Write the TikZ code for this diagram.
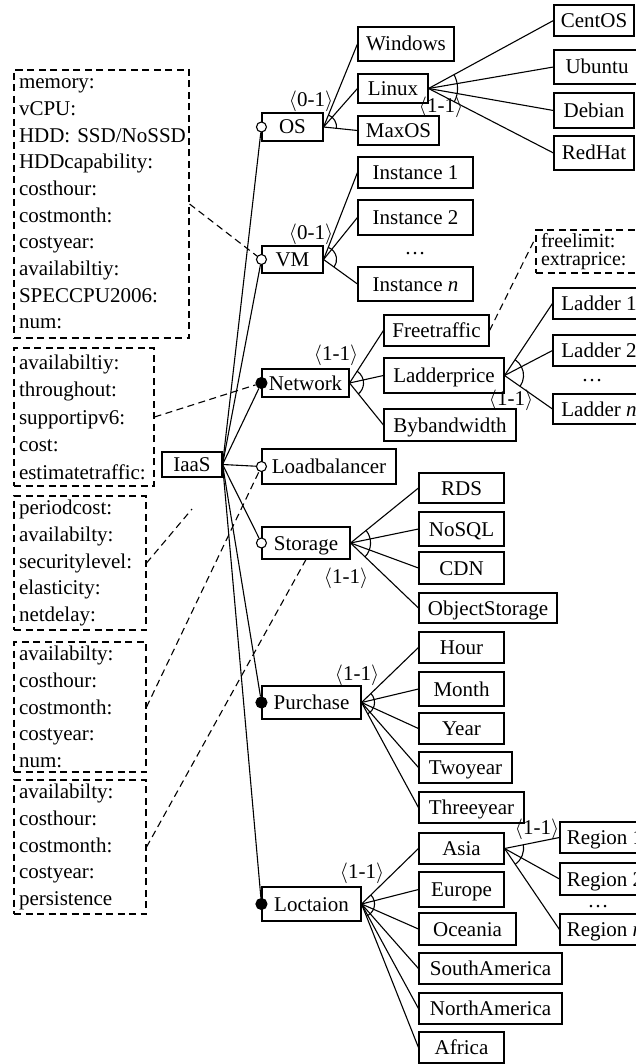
\documentclass[tikz,border=0pt]{standalone}
\usepackage{fontspec}
\setmainfont{Liberation Serif}
\usetikzlibrary{calc}

\tikzset{
  featbox/.style={draw, rectangle, inner sep=0pt, text height=16pt, text depth=2pt},
  attbox/.style={draw, rectangle, dash pattern=on 7pt off 4.5pt, align=left,
                 inner xsep=5pt, inner ysep=0pt},
  ocirc/.style={circle, draw, fill=white, inner sep=0pt, minimum size=10pt},
  fcirc/.style={circle, draw, fill=black, inner sep=0pt, minimum size=11pt},
  card/.style={inner sep=0pt},
  dotn/.style={inner sep=0pt, anchor=base},
  link/.style={},
  dlink/.style={dash pattern=on 7pt off 4.5pt},
}

% feature box from its corners: name, x1, y1, x2, y2, text
\newcommand\featnode[6]{%
  \node[featbox, minimum width={(#4-#2)*1pt}, minimum height={(#5-#3)*1pt}]
    (#1) at ({(#2+#4)/2},{(#3+#5)/2}) {#6};}

% group arc drawn round the parent's east point, from the first to the last child line
\newcommand\grouparc[4]{%
  \draw let \p1=($(#2.west)-(#1.east)$), \p2=($(#3.west)-(#1.east)$),
            \n1={atan2(\y1,\x1)}, \n2={atan2(\y2,\x2)} in
    ($(#1.east)+(\n1:#4)$) arc[start angle=\n1, end angle=\n2, radius=#4];}

\begin{document}
\begin{tikzpicture}[x=1pt, y=-1pt, line width=1.1pt,
                    font=\fontsize{21}{26.7}\selectfont]
\clip (0,0) rectangle (636,1064);

% ---------- root and first level ----------
\featnode{iaas}{162}{452}{222}{477}{IaaS}
\featnode{os}{262}{113}{323}{141}{OS}
\featnode{vm}{262}{246}{323}{273}{VM}
\featnode{net}{262}{369}{349}{397}{Network}
\featnode{lb}{262}{449}{396}{484}{Loadbalancer}
\featnode{sto}{262}{527}{350}{559}{Storage}
\featnode{pur}{262}{686}{361}{719}{Purchase}
\featnode{loc}{262}{887}{361}{921}{Loctaion}

% ---------- OS ----------
\featnode{win}{358}{27}{454}{61}{Windows}
\featnode{linux}{358}{74}{428}{103}{Linux}
\featnode{maxos}{358}{116}{439}{145}{MaxOS}
\featnode{centos}{554}{5}{634}{36}{CentOS}
\featnode{ubuntu}{554}{50}{640}{84}{Ubuntu}
\featnode{debian}{554}{93}{634}{128}{Debian}
\featnode{redhat}{554}{136}{634}{170}{RedHat}

% ---------- VM ----------
\featnode{inst1}{358}{157}{473}{188}{Instance 1}
\featnode{inst2}{358}{200}{473}{235}{Instance 2}
\featnode{instn}{358}{267}{473}{301}{Instance \textit{n}}
\node[dotn] (idots) at (415,255) {\dots};

% ---------- Network ----------
\featnode{ft}{384}{315}{489}{346}{Freetraffic}
\featnode{lp}{384}{358}{504}{393}{Ladderprice}
\featnode{bb}{384}{409}{516}{441}{Bybandwidth}
\featnode{lad1}{553}{288}{645}{319}{Ladder 1}
\featnode{lad2}{553}{335}{645}{366}{Ladder 2}
\featnode{ladn}{553}{394}{645}{424}{Ladder \textit{n}}
\node[dotn] (ldots) at (592,381) {\dots};
\node[attbox, font=\fontsize{20}{18}\selectfont, text width=104pt,
      minimum width=114pt, minimum height=43pt] (fl) at (593,251.5)
      {freelimit:\\extraprice:};

% ---------- Storage ----------
\featnode{rds}{419}{473}{504}{503}{RDS}
\featnode{nosql}{419}{512}{504}{546}{NoSQL}
\featnode{cdn}{419}{552}{504}{584}{CDN}
\featnode{obj}{419}{593}{557}{623}{ObjectStorage}

% ---------- Purchase ----------
\featnode{hour}{419}{632}{504}{663}{Hour}
\featnode{month}{419}{672}{504}{706}{Month}
\featnode{year}{419}{713}{504}{744}{Year}
\featnode{two}{419}{752}{512}{783}{Twoyear}
\featnode{three}{419}{792}{524}{823}{Threeyear}

% ---------- Location ----------
\featnode{asia}{419}{833}{504}{864}{Asia}
\featnode{europe}{419}{872}{504}{907}{Europe}
\featnode{oceania}{419}{913}{516}{945}{Oceania}
\featnode{sam}{419}{953}{562}{984}{SouthAmerica}
\featnode{nam}{419}{993}{562}{1024}{NorthAmerica}
\featnode{africa}{419}{1032}{504}{1063}{Africa}
\featnode{reg1}{560}{822}{650}{853}{Region 1}
\featnode{reg2}{560}{863}{650}{895}{Region 2}
\featnode{regn}{560}{914}{650}{945}{Region \textit{n}}
\node[dotn] (rdots) at (598,907) {\dots};

% ---------- attribute lists ----------
\node[attbox, text width=165pt, minimum width=175pt, minimum height=268pt]
  (a1) at (101.5,204)
  {memory:\\vCPU:\\HDD:~SSD/NoSSD\\HDDcapability:\\costhour:\\costmonth:\\costyear:\\availabiltiy:\\SPECCPU2006:\\num:};
\node[attbox, font=\fontsize{21}{27.5}\selectfont, text width=130pt,
      minimum width=140pt, minimum height=138pt] (a2) at (84,417)
  {availabiltiy:\\throughout:\\supportipv6:\\cost:\\estimatetraffic:};
\node[attbox, text width=122pt, minimum width=132pt, minimum height=134pt]
  (a3) at (80,563)
  {periodcost:\\availabilty:\\securitylevel:\\elasticity:\\netdelay:};
\node[attbox, text width=122pt, minimum width=132pt, minimum height=130pt]
  (a4) at (80,707)
  {availabilty:\\costhour:\\costmonth:\\costyear:\\num:};
\node[attbox, text width=122pt, minimum width=132pt, minimum height=134pt]
  (a5) at (80,847)
  {availabilty:\\costhour:\\costmonth:\\costyear:\\persistence};
\coordinate (lbend) at (192,509);

% ---------- cardinalities ----------
\node[card] (cos)  at (311,101) {$\langle$0-1$\rangle$};
\node[card] (cvm)  at (311,234) {$\langle$0-1$\rangle$};
\node[card] (clin) at (441,107) {$\langle$1-1$\rangle$};
\node[card] (cnet) at (336,355) {$\langle$1-1$\rangle$};
\node[card] (clp)  at (511,400) {$\langle$1-1$\rangle$};
\node[card] (csto) at (346,578) {$\langle$1-1$\rangle$};
\node[card] (cpur) at (357,675) {$\langle$1-1$\rangle$};
\node[card] (cloc) at (362,873) {$\langle$1-1$\rangle$};
\node[card] (casi) at (537,829) {$\langle$1-1$\rangle$};

% ---------- child links ----------
\foreach \c in {win,linux,maxos} \draw[link] (os.east) -- (\c.west);
\foreach \c in {centos,ubuntu,debian,redhat} \draw[link] (linux.east) -- (\c.west);
\foreach \c in {inst1,inst2,instn} \draw[link] (vm.east) -- (\c.west);
\foreach \c in {ft,lp,bb} \draw[link] (net.east) -- (\c.west);
\foreach \c in {lad1,lad2,ladn} \draw[link] (lp.east) -- (\c.west);
\foreach \c in {rds,nosql,cdn,obj} \draw[link] (sto.east) -- (\c.west);
\foreach \c in {hour,month,year,two,three} \draw[link] (pur.east) -- (\c.west);
\foreach \c in {asia,europe,oceania,sam,nam,africa} \draw[link] (loc.east) -- (\c.west);
\foreach \c in {reg1,reg2,regn} \draw[link] (asia.east) -- (\c.west);

\grouparc{os}{win}{maxos}{13pt}
\grouparc{linux}{centos}{redhat}{29pt}
\grouparc{vm}{inst1}{instn}{13pt}
\grouparc{net}{ft}{bb}{14pt}
\grouparc{lp}{lad1}{ladn}{19pt}
\grouparc{sto}{rds}{obj}{20pt}
\grouparc{pur}{hour}{three}{13pt}
\grouparc{loc}{asia}{africa}{13pt}
\grouparc{asia}{reg1}{regn}{19pt}

% ---------- optional / mandatory markers ----------
\node[ocirc] (osc)  at (os.west)  {};
\node[ocirc] (vmc)  at (vm.west)  {};
\node[fcirc] (netc) at (net.west) {};
\node[ocirc] (lbc)  at (lb.west)  {};
\node[ocirc] (stoc) at (sto.west) {};
\node[fcirc] (purc) at (pur.west) {};
\node[fcirc] (locc) at (loc.west) {};

\foreach \c in {osc,vmc,netc,lbc,stoc,purc,locc} \draw[link] (iaas.east) -- (\c);

% ---------- attribute links ----------
\draw[dlink] (a1.east) -- (vmc);
\draw[dlink] (a2.east) -- (netc);
\draw[dlink] (a3.east) -- (lbend);
\draw[dlink] (a4.east) -- (lbc);
\draw[dlink] (a5.east) -- (sto.south);
\draw[dlink] (ft.east) -- ($(fl.north west)!0.19!(fl.south west)$);
\end{tikzpicture}
\end{document}
